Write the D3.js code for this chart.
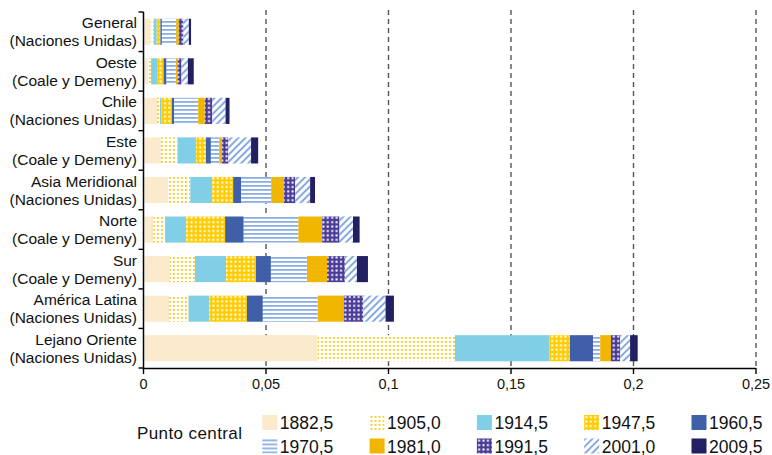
<!DOCTYPE html>
<html><head><meta charset="utf-8">
<script src="https://cdn.jsdelivr.net/npm/d3@7"></script>
<style>
html,body{margin:0;padding:0;background:#fff;}
svg{display:block;font-family:"Liberation Sans",Arial,sans-serif;}
</style></head>
<body>
<svg id="chart" width="772" height="455"></svg>
<script>
// Categories (top to bottom)
const regions = [
  ["General","(Naciones Unidas)"],
  ["Oeste","(Coale y Demeny)"],
  ["Chile","(Naciones Unidas)"],
  ["Este","(Coale y Demeny)"],
  ["Asia Meridional","(Naciones Unidas)"],
  ["Norte","(Coale y Demeny)"],
  ["Sur","(Coale y Demeny)"],
  ["América Latina","(Naciones Unidas)"],
  ["Lejano Oriente","(Naciones Unidas)"]
];
// Series (midpoints), values per region in the order above
const y1882_5 = [0.0024,0.0016,0.0051,0.0067,0.0097,0.0036,0.0104,0.0101,0.0707];
const y1905_0 = [0.0014,0.0011,0.0012,0.0068,0.0090,0.0048,0.0102,0.0079,0.0560];
const y1914_5 = [0.0012,0.0024,0.0007,0.0075,0.0089,0.0086,0.0127,0.0084,0.0385];
const y1947_5 = [0.0015,0.0027,0.0042,0.0041,0.0086,0.0159,0.0122,0.0154,0.0084];
const y1960_5 = [0.0006,0.0012,0.0009,0.0020,0.0033,0.0076,0.0061,0.0065,0.0095];
const y1970_5 = [0.0058,0.0038,0.0098,0.0034,0.0122,0.0223,0.0147,0.0224,0.0029];
const y1981_0 = [0.0011,0.0007,0.0027,0.0011,0.0052,0.0097,0.0082,0.0107,0.0044];
const y1991_5 = [0.0019,0.0016,0.0031,0.0026,0.0046,0.0071,0.0073,0.0079,0.0038];
const y2001_0 = [0.0022,0.0026,0.0054,0.0093,0.0061,0.0055,0.0049,0.0091,0.0040];
const y2009_5 = [0.0009,0.0024,0.0016,0.0029,0.0020,0.0027,0.0045,0.0034,0.0031];
const seriesLabels = ["1882,5","1905,0","1914,5","1947,5","1960,5","1970,5","1981,0","1991,5","2001,0","2009,5"];
const seriesValues = [y1882_5,y1905_0,y1914_5,y1947_5,y1960_5,y1970_5,y1981_0,y1991_5,y2001_0,y2009_5];
const xTicks = [0,0.05,0.1,0.15,0.2,0.25];
const xTickLabels = ["0","0,05","0,1","0,15","0,2","0,25"];
const legendTitle = "Punto central";

const svg = d3.select("#chart");
const defs = svg.append("defs");

// Patterns
function pat(id,w,h,bg){
  const p = defs.append("pattern").attr("id",id).attr("patternUnits","userSpaceOnUse")
    .attr("width",w).attr("height",h);
  p.append("rect").attr("width",w).attr("height",h).attr("fill",bg);
  return p;
}
let p;
p = pat("p1905",4,4,"#ffffff");
p.append("rect").attr("x",1).attr("y",1).attr("width",1.8).attr("height",1.8).attr("fill","#FFC800");
p = pat("p1947",4.4,4.4,"#FFCC00");
p.append("rect").attr("x",1.2).attr("y",1.2).attr("width",2).attr("height",2).attr("fill","#ffffff");
p = pat("p1970",4,4,"#ffffff");
p.append("rect").attr("x",0).attr("y",1).attr("width",4).attr("height",1.8).attr("fill","#8BAEE0");
p = pat("p1991",4.4,4.4,"#4A3B97");
p.append("rect").attr("x",1.2).attr("y",1.2).attr("width",2).attr("height",2).attr("fill","#ffffff");
p = pat("p2001",5,5,"#ffffff").attr("patternTransform","rotate(45)");
p.append("rect").attr("x",0).attr("y",0).attr("width",2).attr("height",5).attr("fill","#86ABE0");

const fills = ["#FBEACB","url(#p1905)","#80CFE6","url(#p1947)","#3F5FA9",
               "url(#p1970)","#F0B600","url(#p1991)","url(#p2001)","#221F63"];

const x = d3.scaleLinear().domain([0,0.25]).range([143.5,756]);
const y = d3.scaleBand().domain(d3.range(regions.length)).range([12,368])
  .paddingInner(0.34).paddingOuter(0.17);

// Gridlines
svg.append("g").selectAll("line").data(xTicks.slice(1)).join("line")
  .attr("x1",d=>x(d)).attr("x2",d=>x(d)).attr("y1",10).attr("y2",368)
  .attr("stroke","#555").attr("stroke-width",1.4).attr("stroke-dasharray","5,4");

// Stacked data
const keys = d3.range(seriesValues.length);
const rows = regions.map((r,i)=>{ const o={idx:i}; keys.forEach(k=>o[k]=seriesValues[k][i]); return o; });
const stack = d3.stack().keys(keys)(rows);

svg.append("g").selectAll("g").data(stack).join("g")
  .attr("fill",(d,i)=>fills[i])
  .selectAll("rect").data(d=>d).join("rect")
  .attr("x",d=>x(d[0])+1).attr("width",d=>x(d[1])-x(d[0]))
  .attr("y",d=>y(d.data.idx)).attr("height",y.bandwidth());

// Axes
const ax = svg.append("g").attr("stroke","#000").attr("fill","none");
ax.append("line").attr("x1",x(0)).attr("x2",x(0)).attr("y1",12).attr("y2",368.5).attr("stroke-width",1.5);
ax.append("line").attr("x1",x(0)-0.7).attr("x2",x(0.25)).attr("y1",368.5).attr("y2",368.5).attr("stroke-width",1.5);
const bounds = d3.range(regions.length+1).map(i=> i===0 ? 12 : (i===regions.length?368:y(i)-y.step()*y.paddingInner()/2));
ax.selectAll(".yt").data(bounds).join("line").attr("class","yt")
  .attr("x1",x(0)-5).attr("x2",x(0)).attr("y1",d=>d).attr("y2",d=>d).attr("stroke-width",1.4);
ax.selectAll(".xt").data(xTicks).join("line").attr("class","xt")
  .attr("x1",d=>x(d)).attr("x2",d=>x(d)).attr("y1",368).attr("y2",374).attr("stroke-width",1.4);

svg.append("g").selectAll("text").data(xTicks).join("text")
  .attr("x",d=>x(d)).attr("y",389).attr("text-anchor","middle")
  .attr("font-size",14.5).attr("fill","#111").text((d,i)=>xTickLabels[i]);

// Category labels
const lab = svg.append("g").selectAll("text").data(regions).join("text")
  .attr("text-anchor","end").attr("font-size",15.5).attr("fill","#111");
lab.append("tspan").attr("x",137).attr("y",(d,i)=>y(i)+y.bandwidth()/2-3.5).text(d=>d[0]);
lab.append("tspan").attr("x",137).attr("y",(d,i)=>y(i)+y.bandwidth()/2+14.5).text(d=>d[1]);

// Legend
const lg = svg.append("g");
lg.append("text").attr("x",137).attr("y",439).attr("font-size",17).attr("letter-spacing",0.4)
  .attr("fill","#111").text(legendTitle);
const lItems = lg.selectAll("g").data(seriesLabels).join("g")
  .attr("transform",(d,i)=>`translate(${262.3+(i%5)*107.3},${i<5?415:438.5})`);
lItems.append("rect").attr("width",15).attr("height",15).attr("fill",(d,i)=>fills[i]);
lItems.append("text").attr("x",17.5).attr("y",14).attr("font-size",17.5).attr("fill","#111").text(d=>d);
</script>
</body></html>
